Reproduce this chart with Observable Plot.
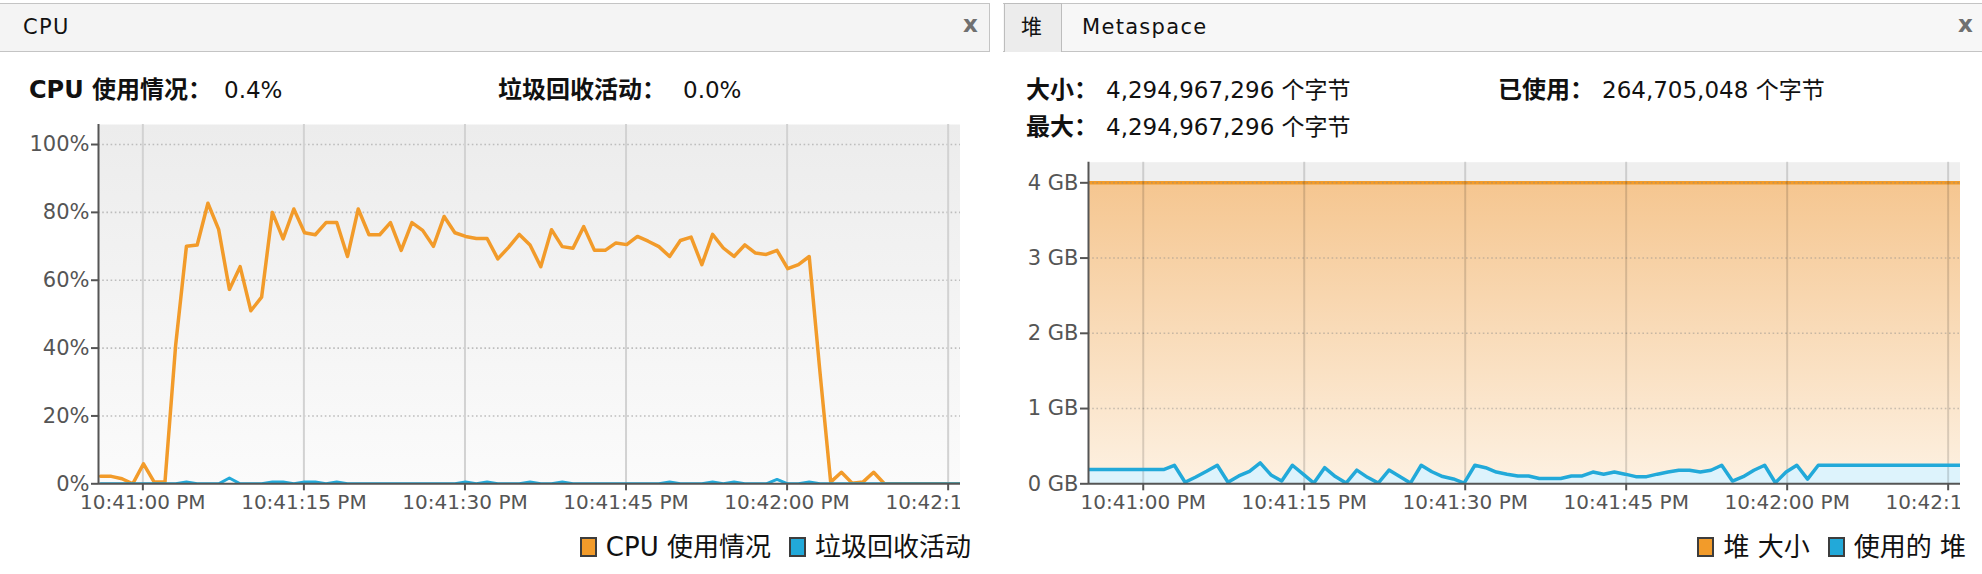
<!DOCTYPE html>
<html>
<head>
<meta charset="utf-8">
<script src="https://cdn.jsdelivr.net/npm/d3@7"></script>
<script src="https://cdn.jsdelivr.net/npm/@observablehq/plot@0.6"></script>
<style>
  html, body { margin: 0; padding: 0; }
  body { width: 1982px; height: 574px; background: #fff; position: relative; overflow: hidden;
         font-family: "DejaVu Sans", "Noto Sans CJK SC", sans-serif; color: #111; }
  .abs { position: absolute; }
  .hdr { position: absolute; top: 3px; height: 47px; background: #f4f4f4;
         border-top: 1px solid #c4c4c4; border-bottom: 1px solid #c4c4c4; box-sizing: content-box; }
  .tab { position: absolute; font-size: 21px; letter-spacing: 1.3px; line-height: 1; color: #111; }
  .close { position: absolute; font-size: 23px; font-weight: bold; color: #707070; line-height: 1; }
  .info { position: absolute; font-size: 23px; line-height: 1; white-space: nowrap; color: #111; }
  .info.lbl { font-weight: bold; font-size: 24px; top: -1px; }
  .legend { position: absolute; font-size: 26px; line-height: 1; white-space: nowrap; color: #111; }
  .sw { display: inline-block; width: 13px; height: 16px; border: 2px solid #3d3d3d; vertical-align: -1px; margin-right: 9px; }
  .chartbox { position: absolute; overflow: hidden; }
</style>
</head>
<body>
<!-- left panel header -->
<div class="hdr" style="left:0; width:989px; border-right:1px solid #c4c4c4;"></div>
<div class="tab" style="left:23px; top:17px;">CPU</div>
<div class="close" style="left:963px; top:13px;">x</div>

<!-- right panel header -->
<div class="hdr" style="left:1003px; width:979px; background:#f7f7f7;"></div>
<div class="abs" style="left:1004px; top:3px; width:56px; height:48px; background:#ececec; border:1px solid #bdbdbd; border-bottom:none;"></div>
<div class="tab" style="left:1021px; top:17px;">堆</div>
<div class="tab" style="left:1082px; top:17px;">Metaspace</div>
<div class="close" style="left:1958px; top:13px;">x</div>

<div id="info"></div>

<div id="cpuChart" class="chartbox" style="left:0; top:110px; width:960px; height:420px;"></div>
<div id="heapChart" class="chartbox" style="left:1000px; top:150px; width:960px; height:380px;"></div>

<div id="cpuLegend" class="legend" style="right:1011px; top:534px;"></div>
<div id="heapLegend" class="legend" style="right:16px; top:534px;"></div>

<script>
// ---------------- data ----------------
const xTickLabels = ["10:41:00 PM", "10:41:15 PM", "10:41:30 PM", "10:41:45 PM", "10:42:00 PM", "10:42:15 PM"];
const cpuYTicks = [0, 20, 40, 60, 80, 100];
const cpuYTickLabels = ["0%", "20%", "40%", "60%", "80%", "100%"];
const heapYTicks = [0, 1, 2, 3, 4];
const heapYTickLabels = ["0 GB", "1 GB", "2 GB", "3 GB", "4 GB"];

const cpuSeriesNames = ["CPU 使用情况", "垃圾回收活动"];
const heapSeriesNames = ["堆 大小", "使用的 堆"];

const cpuInfoLabels = ["CPU 使用情况：", "垃圾回收活动："];
const cpuInfoValues = ["0.4%", "0.0%"];
const heapInfoLabels = ["大小：", "已使用：", "最大："];
const heapInfoValues = ["4,294,967,296 个字节", "264,705,048 个字节", "4,294,967,296 个字节"];

const cpuDomain = ["22:40:55.870", "22:42:16.150"];
const heapDomain = ["22:40:54.900", "22:42:16.150"];
const cpuStart = "22:40:56.060";
const heapStart = "22:40:54.900";
const sampleMs = 1000;

// CPU usage (%), one sample per second
const cpuUsage = [
  2.2, 2.2, 1.5, 0, 5.9, 0.5, 0.5, 41, 70, 70.4,
  82.7, 75, 57.3, 64, 51, 55, 80, 72.2, 81, 74,
  73.4, 77, 77, 67, 81, 73.4, 73.4, 77, 68.8, 77,
  74.7, 70, 78.8, 74, 72.9, 72.3, 72.3, 66.3, 69.7, 73.5,
  70.4, 64, 74.9, 69.9, 69.4, 75.8, 68.8, 68.8, 71, 70.5,
  72.9, 71.5, 69.9, 67, 71.7, 72.7, 64.6, 73.5, 69.5, 67,
  70.4, 68, 67.6, 68.8, 63.4, 64.6, 67, 33, 0.5, 3.4,
  0.2, 0.5, 3.4, 0, 0, 0, 0, 0, 0, 0,
  0, 0
];
// GC activity (%)
const gcActivity = [
  0, 0, 0, 0, 0, 0, 0, 0, 0.5, 0,
  0, 0, 1.7, 0, 0, 0, 0.5, 0.5, 0, 0.5,
  0.5, 0, 0.5, 0, 0, 0, 0, 0, 0, 0,
  0, 0, 0, 0, 0.5, 0, 0.5, 0, 0, 0,
  0.5, 0, 0, 0.5, 0, 0, 0, 0, 0, 0,
  0, 0, 0, 0.5, 0, 0, 0, 0.5, 0, 0.5,
  0, 0, 0, 1.3, 0, 0, 0.5, 0, 0, 0,
  0, 0, 0, 0, 0, 0, 0, 0, 0, 0,
  0, 0
];
// Heap size (GB) – constant 4,294,967,296 bytes
const heapSizeGB = 4;
// Used heap (GB), one sample per second
const heapUsedGB = [
  0.19, 0.19, 0.19, 0.19, 0.19, 0.19, 0.19, 0.19, 0.2465, 0.02,
  0.09, 0.166, 0.2465, 0.02, 0.104, 0.166, 0.278, 0.118, 0.037, 0.2465,
  0.128, 0.01, 0.214, 0.096, 0.01, 0.182, 0.086, 0.01, 0.182, 0.096,
  0.01, 0.2465, 0.16, 0.096, 0.064, 0.01, 0.2465, 0.214, 0.156, 0.128,
  0.104, 0.104, 0.07, 0.07, 0.07, 0.104, 0.104, 0.156, 0.128, 0.156,
  0.128, 0.095, 0.095, 0.128, 0.156, 0.18, 0.18, 0.156, 0.18, 0.2465,
  0.037, 0.095, 0.18, 0.2465, 0.014, 0.156, 0.2465, 0.062, 0.2465, 0.2465,
  0.2465, 0.2465, 0.2465, 0.2465, 0.2465, 0.2465, 0.2465, 0.2465, 0.2465, 0.2465,
  0.2465, 0.2465, 0.2465
];

const ORANGE = "#f29b2a";
const BLUE = "#22a9d9";
const FONT = '"DejaVu Sans", "Noto Sans CJK SC", sans-serif';

// ---------------- info / legend text ----------------
const infoLayout = [
  // [label, value, labelX, valueX, top]
  [cpuInfoLabels[0], cpuInfoValues[0], 29, 224, 79],
  [cpuInfoLabels[1], cpuInfoValues[1], 498, 683, 79],
  [heapInfoLabels[0], heapInfoValues[0], 1026, 1106, 79],
  [heapInfoLabels[1], heapInfoValues[1], 1498, 1602, 79],
  [heapInfoLabels[2], heapInfoValues[2], 1026, 1106, 116]
];
const infoRoot = document.getElementById("info");
infoLayout.forEach(([lbl, val, lx, vx, top]) => {
  const a = document.createElement("div"); a.className = "info lbl"; a.textContent = lbl;
  a.style.left = lx + "px"; a.style.top = (top - 1) + "px";
  const b = document.createElement("div"); b.className = "info"; b.textContent = val;
  b.style.left = vx + "px"; b.style.top = top + "px";
  infoRoot.appendChild(a); infoRoot.appendChild(b);
});

function setLegend(id, names, colors) {
  const el = document.getElementById(id);
  names.forEach((n, i) => {
    const sw = document.createElement("span"); sw.className = "sw"; sw.style.background = colors[i];
    const t = document.createElement("span"); t.textContent = n;
    if (i > 0) sw.style.marginLeft = "18px";
    el.appendChild(sw); el.appendChild(t);
  });
}
setLegend("cpuLegend", cpuSeriesNames, [ORANGE, BLUE]);
setLegend("heapLegend", heapSeriesNames, [ORANGE, BLUE]);

// ---------------- build series ----------------
const parseT = d3.timeParse("%H:%M:%S.%L");
const parseTick = d3.timeParse("%I:%M:%S %p");
const xTicks = xTickLabels.map(parseTick);
const fmtTick = d => xTickLabels[xTicks.findIndex(t => +t === +d)];

const c0 = parseT(cpuStart), h0 = parseT(heapStart);
const cpuData = cpuUsage.map((v, i) => ({t: new Date(+c0 + i * sampleMs), v}));
const gcData = gcActivity.map((v, i) => ({t: new Date(+c0 + i * sampleMs), v}));
const heapData = heapUsedGB.map((v, i) => ({t: new Date(+h0 + i * sampleMs), used: v, size: heapSizeGB}));

const cpuX = cpuDomain.map(parseT);
const heapX = heapDomain.map(parseT);

// ---------------- CPU chart ----------------
const cpuChart = Plot.plot({
  width: 960, height: 420,
  marginLeft: 98, marginRight: 0, marginTop: 14, marginBottom: 46.7,
  style: {fontFamily: FONT, fontSize: "20px", color: "#555", background: "transparent", overflow: "hidden"},
  x: {type: "time", domain: cpuX},
  y: {domain: [0, 105.9]},
  marks: [
    Plot.frame({fill: "url(#cpuBg)", stroke: null}),
    Plot.ruleY(cpuYTicks.slice(1), {stroke: "#bdbdbd", strokeWidth: 1.6, strokeDasharray: "1.6,2.6"}),
    Plot.ruleX(xTicks, {stroke: "#d2d2d2", strokeWidth: 2}),
    Plot.lineY(cpuData, {x: "t", y: "v", stroke: ORANGE, strokeWidth: 3.5, clip: true}),
    Plot.lineY(gcData, {x: "t", y: "v", stroke: BLUE, strokeWidth: 3, clip: true}),
    Plot.ruleY([0], {stroke: "#555", strokeWidth: 2}),
    Plot.ruleX([cpuX[0]], {stroke: "#555", strokeWidth: 2}),
    Plot.axisX(xTicks, {tickFormat: fmtTick, tickSize: 7, tickPadding: 4, strokeWidth: 2, label: null, fontSize: 20}),
    Plot.axisY(cpuYTicks, {tickFormat: d => cpuYTickLabels[cpuYTicks.indexOf(d)], tickSize: 7, tickPadding: 2, strokeWidth: 2, label: null, fontSize: 21})
  ]
});
d3.select(cpuChart).insert("defs", ":first-child").html(
  '<linearGradient id="cpuBg" x1="0" y1="0" x2="0" y2="1">' +
  '<stop offset="0" stop-color="#ececec"/><stop offset="1" stop-color="#fbfbfb"/></linearGradient>');
document.getElementById("cpuChart").appendChild(cpuChart);

// ---------------- Heap chart ----------------
const heapChart = Plot.plot({
  width: 960, height: 380,
  marginLeft: 88, marginRight: 0, marginTop: 11.7, marginBottom: 46.7,
  style: {fontFamily: FONT, fontSize: "20px", color: "#555", background: "transparent", overflow: "hidden"},
  x: {type: "time", domain: heapX},
  y: {domain: [0, 4.274]},
  marks: [
    Plot.frame({fill: "#efefef", stroke: null}),
    Plot.areaY(heapData, {x: "t", y: "size", fill: "url(#heapFill)", clip: true}),
    Plot.areaY(heapData, {x: "t", y: "used", fill: "#ddf3fc", clip: true}),
    Plot.lineY(heapData, {x: "t", y: "size", stroke: ORANGE, strokeWidth: 3.5, clip: true}),
    Plot.ruleY(heapYTicks.slice(1), {stroke: "#8a8a8a", strokeOpacity: 0.45, strokeWidth: 1.6, strokeDasharray: "1.6,2.6"}),
    Plot.ruleX(xTicks, {stroke: "#000", strokeOpacity: 0.14, strokeWidth: 2}),
    Plot.lineY(heapData, {x: "t", y: "used", stroke: BLUE, strokeWidth: 3.5, clip: true}),
    Plot.ruleY([0], {stroke: "#555", strokeWidth: 2}),
    Plot.ruleX([heapX[0]], {stroke: "#555", strokeWidth: 2}),
    Plot.axisX(xTicks, {tickFormat: fmtTick, tickSize: 7, tickPadding: 4, strokeWidth: 2, label: null, fontSize: 20}),
    Plot.axisY(heapYTicks, {tickFormat: d => heapYTickLabels[heapYTicks.indexOf(d)], tickSize: 8, tickPadding: 2, strokeWidth: 2, label: null, fontSize: 21})
  ]
});
d3.select(heapChart).insert("defs", ":first-child").html(
  '<linearGradient id="heapFill" x1="0" y1="0" x2="0" y2="1">' +
  '<stop offset="0" stop-color="#f5c690"/><stop offset="1" stop-color="#fdf1e2"/></linearGradient>');
document.getElementById("heapChart").appendChild(heapChart);
</script>
</body>
</html>
